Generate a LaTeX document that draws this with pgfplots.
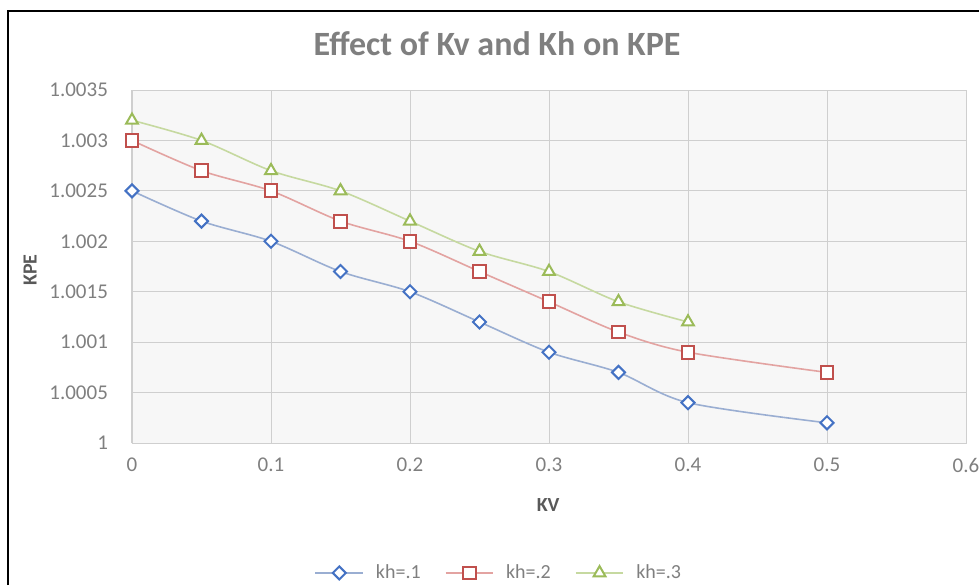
\documentclass[border=0pt]{standalone}
\usepackage{fontspec}
\setmainfont{Carlito}
\usepackage{pgfplots}
\pgfplotsset{compat=1.18}
\definecolor{tickgray}{HTML}{7F7F7F}
\definecolor{labgray}{HTML}{595959}
\definecolor{titlegray}{HTML}{7F7F7F}
\definecolor{mblue}{HTML}{4472C4}
\definecolor{lblue}{HTML}{9AAED2}
\definecolor{mred}{HTML}{C0504D}
\definecolor{lred}{HTML}{E3A3A1}
\definecolor{mgreen}{HTML}{9BBB59}
\definecolor{lgreen}{HTML}{C6D9A0}
\begin{document}
\begin{tikzpicture}
\useasboundingbox (0,0) rectangle (489.5pt,292.5pt);
\draw[black, line width=0.6pt] (4pt,0) -- (4pt,287pt) -- (489.5pt,287pt);
\node[font=\fontsize{17}{19}\selectfont\bfseries, text=titlegray] at (248.5pt,270.5pt) {Effect of Kv and Kh on KPE};
\begin{axis}[
  at={(66pt,71pt)}, anchor=south west,
  scale only axis, width=417pt, height=176.5pt,
  xmin=0, xmax=0.6, ymin=1, ymax=1.0035,
  xtick={0,0.1,0.2,0.3,0.4,0.5,0.6},
  xticklabels={0,0.1,0.2,0.3,0.4,0.5,0.6},
  ytick={1,1.0005,1.001,1.0015,1.002,1.0025,1.003,1.0035},
  yticklabels={1,1.0005,1.001,1.0015,1.002,1.0025,1.003,1.0035},
  scaled ticks=false,
  major tick length=0pt,
  grid=major,
  grid style={gray!38, line width=0.5pt},
  axis line style={gray!38},
  axis background/.style={fill=gray!6},
  ticklabel style={font=\fontsize{10.5}{12}\selectfont, text=tickgray},
  /pgf/number format/assume math mode=true,
  xticklabel style={yshift=-4pt},
  yticklabel style={xshift=-8.5pt},
  xlabel={\textbf{KV}},
  ylabel={\textbf{KPE}},
  label style={font=\fontsize{10}{12}\selectfont, text=labgray},
  xlabel style={at={(axis description cs:0.499,-0.176)}, anchor=center},
  ylabel style={at={(axis description cs:-0.122,0.49)}, anchor=center, rotate=0},
  legend columns=3,
  legend style={at={(axis description cs:0.441,-0.368)}, anchor=center, draw=none, fill=none,
    font=\fontsize{10}{12}\selectfont, text=tickgray,
    /tikz/every even column/.append style={column sep=3pt},
    /tikz/every odd column/.append style={column sep=4pt}},
  every axis plot post/.append style={legend image code/.code={\draw[mark=none] (0cm,0cm) -- (0.84cm,0cm); \draw[only marks] plot coordinates {(0.42cm,0cm)};}},
  legend cell align=left,
]
\addplot[smooth, color=lblue, line width=0.8pt, mark=square*, mark size=2.3pt,
  mark options={draw=mblue, fill=white, line width=1pt, rotate=45}]
  coordinates {(0,1.0025) (0.05,1.0022) (0.1,1.002) (0.15,1.0017) (0.2,1.0015) (0.25,1.0012) (0.3,1.0009) (0.35,1.0007) (0.4,1.0004) (0.5,1.0002)};
\addlegendentry{kh=.1\rule{7pt}{0pt}}
\addplot[smooth, color=lred, line width=0.8pt, mark=square*, mark size=3.2pt,
  mark options={draw=mred, fill=white, line width=1pt}]
  coordinates {(0,1.003) (0.05,1.0027) (0.1,1.0025) (0.15,1.0022) (0.2,1.002) (0.25,1.0017) (0.3,1.0014) (0.35,1.0011) (0.4,1.0009) (0.5,1.0007)};
\addlegendentry{kh=.2\rule{7pt}{0pt}}
\addplot[smooth, color=lgreen, line width=0.8pt, mark=triangle*, mark size=3.4pt,
  mark options={draw=mgreen, fill=white, line width=1pt}]
  coordinates {(0,1.0032) (0.05,1.003) (0.1,1.0027) (0.15,1.0025) (0.2,1.0022) (0.25,1.0019) (0.3,1.0017) (0.35,1.0014) (0.4,1.0012)};
\addlegendentry{kh=.3}
\end{axis}
\end{tikzpicture}
\end{document}
